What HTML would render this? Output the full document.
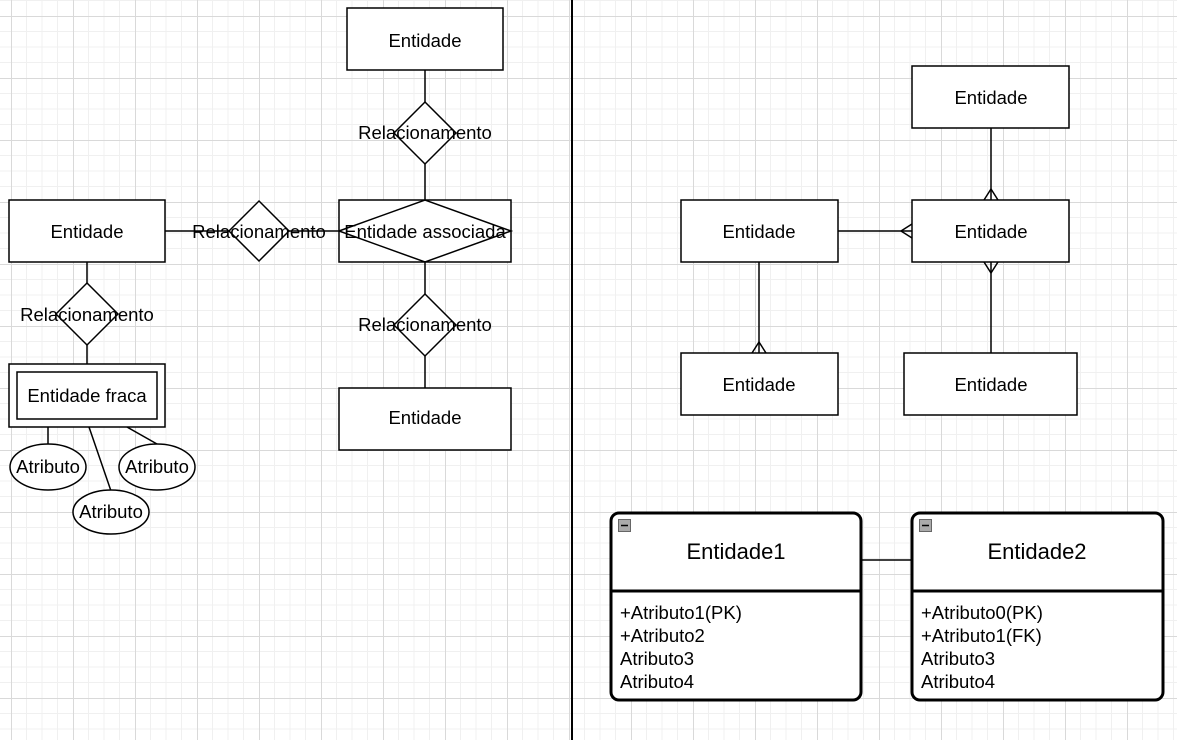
<!DOCTYPE html>
<html><head><meta charset="utf-8"><style>
html,body{margin:0;padding:0;background:#fff;}
svg{display:block;font-family:"Liberation Sans",Arial,sans-serif;}
</style></head><body>
<svg width="1177" height="740" viewBox="0 0 1177 740" xmlns="http://www.w3.org/2000/svg">
<defs>
<pattern id="g" x="11" y="16" width="62" height="62" patternUnits="userSpaceOnUse">
<path d="M0 15.5H62M0 31H62M0 46.5H62M15.5 0V62M31 0V62M46.5 0V62" stroke="#f0f0f0" stroke-width="1" fill="none"/>
<path d="M0 0.5H62M0.5 0V62" stroke="#d9d9d9" stroke-width="1" fill="none"/>
</pattern>
</defs>
<rect width="1177" height="740" fill="#fff"/>
<rect width="1177" height="740" fill="url(#g)"/>
<g stroke="#000" stroke-width="1.5" fill="#fff">
<line x1="425" y1="70" x2="425" y2="200"/>
<line x1="425" y1="262" x2="425" y2="388"/>
<line x1="165" y1="231" x2="339" y2="231"/>
<line x1="87" y1="262" x2="87" y2="364"/>
<rect x="347" y="8" width="156" height="62"/>
<polygon points="425,102 456,133 425,164 394,133"/>
<rect x="339" y="200" width="172" height="62"/>
<polygon points="339,231 425,200 511,231 425,262" fill="none"/>
<rect x="9" y="200" width="156" height="62"/>
<polygon points="259,201 289,231 259,261 229,231"/>
<polygon points="87,283 118,314 87,345 56,314"/>
<rect x="9" y="364" width="156" height="63"/>
<rect x="17" y="372" width="140" height="47"/>
<line x1="48" y1="427" x2="48" y2="446"/>
<line x1="89" y1="427" x2="111" y2="491"/>
<line x1="127" y1="427" x2="157" y2="444"/>
<ellipse cx="48" cy="467" rx="38" ry="23"/>
<ellipse cx="157" cy="467" rx="38" ry="23"/>
<ellipse cx="111" cy="512" rx="38" ry="22"/>
<polygon points="425,294 456,325 425,356 394,325"/>
<rect x="339" y="388" width="172" height="62"/>
<line x1="991" y1="128" x2="991" y2="353"/>
<line x1="838" y1="231" x2="912" y2="231"/>
<line x1="759" y1="262" x2="759" y2="353"/>
<rect x="912" y="66" width="157" height="62"/>
<rect x="912" y="200" width="157" height="62"/>
<rect x="681" y="200" width="157" height="62"/>
<rect x="681" y="353" width="157" height="62"/>
<rect x="904" y="353" width="173" height="62"/>
<path d="M984 200L991 189L998 200M984 262L991 273L998 262M901 231L912 224M901 231L912 238M752 353L759 342L766 353" fill="none"/>
<line x1="861" y1="560" x2="912" y2="560"/>
</g>
<line x1="572" y1="0" x2="572" y2="740" stroke="#000" stroke-width="2"/>
<g stroke="#000" stroke-width="3" fill="#fff">
<rect x="611" y="513" width="250" height="187" rx="8"/>
<line x1="611" y1="591" x2="861" y2="591"/>
<rect x="912" y="513" width="251" height="187" rx="8"/>
<line x1="912" y1="591" x2="1163" y2="591"/>
</g>
<g fill="#aaa" stroke="#666" stroke-width="1">
<rect x="618.5" y="519.5" width="12" height="12"/>
<rect x="919.5" y="519.5" width="12" height="12"/>
</g>
<path d="M621 525.5H628M922 525.5H929" stroke="#000" stroke-width="1.5"/>
<g font-size="18.5" text-anchor="middle" fill="#000">
<text x="425" y="47">Entidade</text>
<text x="425" y="139">Relacionamento</text>
<text x="425" y="238">Entidade associada</text>
<text x="87" y="238">Entidade</text>
<text x="259" y="238">Relacionamento</text>
<text x="87" y="321">Relacionamento</text>
<text x="87" y="402">Entidade fraca</text>
<text x="48" y="473">Atributo</text>
<text x="157" y="473">Atributo</text>
<text x="111" y="518">Atributo</text>
<text x="425" y="331">Relacionamento</text>
<text x="425" y="424">Entidade</text>
<text x="991" y="104">Entidade</text>
<text x="991" y="238">Entidade</text>
<text x="759" y="238">Entidade</text>
<text x="759" y="391">Entidade</text>
<text x="991" y="391">Entidade</text>
<text x="736" y="559" font-size="22">Entidade1</text>
<text x="1037" y="559" font-size="22">Entidade2</text>
</g>
<g font-size="18.5" fill="#000">
<text x="620" y="619">+Atributo1(PK)</text>
<text x="620" y="642">+Atributo2</text>
<text x="620" y="665">Atributo3</text>
<text x="620" y="688">Atributo4</text>
<text x="921" y="619">+Atributo0(PK)</text>
<text x="921" y="642">+Atributo1(FK)</text>
<text x="921" y="665">Atributo3</text>
<text x="921" y="688">Atributo4</text>
</g>
</svg>
</body></html>
